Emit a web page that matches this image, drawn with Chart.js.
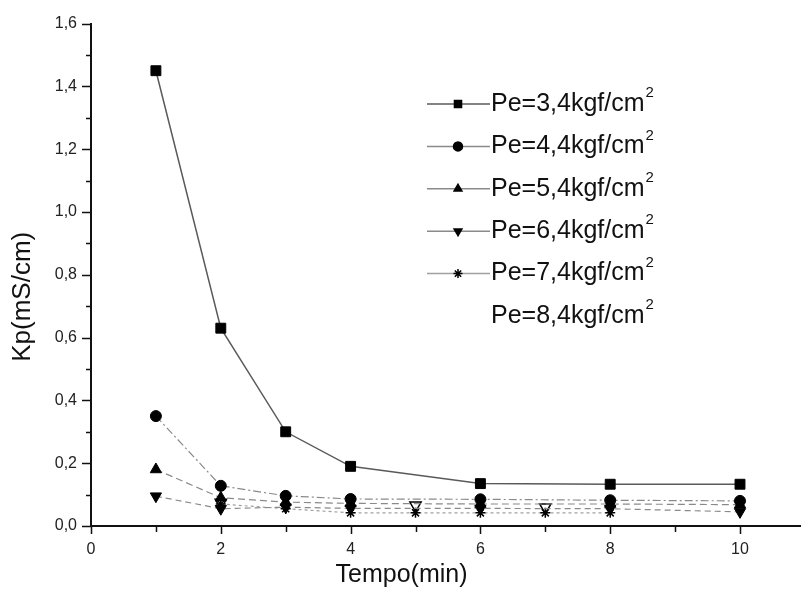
<!DOCTYPE html>
<html>
<head>
<meta charset="utf-8">
<script src="https://cdn.jsdelivr.net/npm/chart.js@4/dist/chart.umd.min.js"></script>
<style>
  html, body { margin: 0; padding: 0; background: #fff; overflow: hidden; }
</style>
</head>
<body>
<canvas id="kpChart" width="801" height="591"></canvas>
<script>
// Kp vs tempo, one series per pressure
const tempo = [1, 2, 3, 4, 6, 8, 10];
const kp34 = [1.45, 0.63, 0.30, 0.19, 0.135, 0.133, 0.133];
const kp44 = [0.35, 0.128, 0.096, 0.086, 0.085, 0.082, 0.08];
const kp54 = [0.18, 0.09, 0.076, 0.072, 0.07, 0.07, 0.068];
const kp64 = [0.095, 0.055, 0.06, 0.056, 0.056, 0.055, 0.045];
const tempo74 = [2, 3, 4, 5, 6, 7, 8];
const kp74 = [0.07, 0.055, 0.042, 0.042, 0.042, 0.042, 0.042];
const tempo84 = [2, 5, 7];
const kp84 = [0.075, 0.066, 0.06];

const legendLabels = ['Pe=3,4kgf/cm', 'Pe=4,4kgf/cm', 'Pe=5,4kgf/cm', 'Pe=6,4kgf/cm', 'Pe=7,4kgf/cm', 'Pe=8,4kgf/cm'];
const yTickLabels = ['0,0', '0,2', '0,4', '0,6', '0,8', '1,0', '1,2', '1,4', '1,6'];
const xTickLabels = ['0', '2', '4', '6', '8', '10'];
const xTitle = 'Tempo(min)';
const yTitle = 'Kp(mS/cm)';

const FONT = '"Liberation Sans", Arial, sans-serif';

function pts(xs, ys) {
  return xs.map((x, i) => ({ x: x, y: ys[i] }));
}

function serie(label, xs, ys, style) {
  return Object.assign({
    label: label,
    data: pts(xs, ys),
    borderColor: '#8a8a8a',
    borderWidth: 1.2,
    pointBackgroundColor: '#000',
    pointBorderColor: '#000',
    pointBorderWidth: 1,
    pointRadius: 5.5,
    fill: false,
    tension: 0,
    clip: false
  }, style);
}

const datasets = [
  serie(legendLabels[0], tempo, kp34, { pointStyle: 'rect', pointRadius: 7, borderColor: '#5a5a5a', borderWidth: 1.5 }),
  serie(legendLabels[1], tempo, kp44, { pointStyle: 'circle', borderDash: [8, 3, 2, 3] }),
  serie(legendLabels[2], tempo, kp54, { pointStyle: 'triangle', pointRadius: 6.5, borderDash: [7, 4] }),
  serie(legendLabels[3], tempo, kp64, { pointStyle: 'triangle', pointRotation: 180, pointRadius: 6.5, borderDash: [6, 4] }),
  serie(legendLabels[4], tempo74, kp74, { pointStyle: 'star', pointRadius: 5, pointBorderWidth: 1.5, borderColor: '#a0a0a0', borderDash: [3, 3] }),
  serie(legendLabels[5], tempo84, kp84, { pointStyle: 'triangle', pointRotation: 180, pointRadius: 6.5, pointBackgroundColor: '#fff', pointBorderWidth: 1.5, showLine: false, noLegendSymbol: true })
];

// short minor ticks / long major ticks, outside the axes
const axisTicks = {
  id: 'axisTicks',
  afterDraw(chart) {
    const ctx = chart.ctx;
    const x = chart.scales.x, y = chart.scales.y;
    const area = chart.chartArea;
    ctx.save();
    ctx.strokeStyle = '#111';
    ctx.lineWidth = 1.5;
    ctx.beginPath();
    for (let k = 0; k <= 16; k++) {
      const py = Math.round(y.getPixelForValue(k / 10)) + 0.5;
      const len = k % 2 === 0 ? 9 : 5;
      ctx.moveTo(area.left - len, py);
      ctx.lineTo(area.left, py);
    }
    for (let k = 0; k <= 10; k++) {
      const px = Math.round(x.getPixelForValue(k)) + 0.5;
      const len = k % 2 === 0 ? 8 : 6;
      ctx.moveTo(px, area.bottom);
      ctx.lineTo(px, area.bottom + len);
    }
    ctx.stroke();
    // the time axis runs on to the edge
    ctx.lineWidth = 2;
    ctx.beginPath();
    ctx.moveTo(area.right, area.bottom);
    ctx.lineTo(chart.width, area.bottom);
    ctx.stroke();
    ctx.restore();
  }
};

// axis titles, placed a little off the scale centres
const axisTitles = {
  id: 'axisTitles',
  afterDraw(chart) {
    const ctx = chart.ctx;
    const area = chart.chartArea;
    ctx.save();
    ctx.fillStyle = '#111';
    ctx.textAlign = 'center';
    ctx.textBaseline = 'middle';
    ctx.font = '25px ' + FONT;
    ctx.fillText(xTitle, (area.left + area.right) / 2 - 14, 575);
    ctx.translate(23, (area.top + area.bottom) / 2 + 22);
    ctx.rotate(-Math.PI / 2);
    ctx.font = '26px ' + FONT;
    ctx.fillText(yTitle, 0, 0);
    ctx.restore();
  }
};

// legend: line with marker, label with superscript 2
const lineLegend = {
  id: 'lineLegend',
  afterDraw(chart) {
    const ctx = chart.ctx;
    ctx.save();
    chart.data.datasets.forEach((ds, i) => {
      const y = 104 + i * 42.4;
      if (!ds.noLegendSymbol) {
        ctx.strokeStyle = ds.borderColor;
        ctx.lineWidth = 1.5;
        ctx.setLineDash([]);
        ctx.beginPath();
        ctx.moveTo(427, y);
        ctx.lineTo(490, y);
        ctx.stroke();
        ctx.fillStyle = '#000';
        ctx.strokeStyle = '#000';
        Chart.helpers.drawPoint(ctx, {
          pointStyle: ds.pointStyle,
          rotation: ds.pointRotation || 0,
          radius: ds.pointStyle === 'rect' ? 5 : 4.5,
          borderWidth: 1
        }, 458, y);
      }
      ctx.fillStyle = '#111';
      ctx.textBaseline = 'middle';
      ctx.textAlign = 'left';
      ctx.font = '25px ' + FONT;
      ctx.fillText(ds.label, 491, y);
      const w = ctx.measureText(ds.label).width;
      ctx.font = '15px ' + FONT;
      ctx.fillText('2', 491 + w + 1, y - 11);
    });
    ctx.restore();
  }
};

new Chart(document.getElementById('kpChart').getContext('2d'), {
  type: 'line',
  data: { datasets: datasets },
  options: {
    responsive: false,
    animation: false,
    devicePixelRatio: 1,
    layout: { autoPadding: false, padding: { top: 17, right: 61, left: 0, bottom: 0 } },
    plugins: {
      legend: { display: false },
      tooltip: { enabled: false }
    },
    scales: {
      x: {
        type: 'linear',
        min: 0,
        max: 10,
        afterBuildTicks: (scale) => {
          scale.ticks = xTickLabels.map((_, i) => ({ value: i * 2 }));
        },
        afterFit: (scale) => { scale.height = 65; },
        grid: { display: true, drawOnChartArea: false, drawTicks: false },
        border: { display: true, color: '#111', width: 2 },
        ticks: {
          padding: 14,
          maxRotation: 0,
          autoSkip: false,
          color: '#222',
          font: { family: FONT, size: 16 },
          callback: (v, i) => xTickLabels[i]
        }
      },
      y: {
        min: 0,
        max: 1.6,
        afterBuildTicks: (scale) => {
          scale.ticks = yTickLabels.map((_, i) => ({ value: i * 0.2 }));
        },
        afterFit: (scale) => { scale.width = 91; },
        grid: { display: true, drawOnChartArea: false, drawTicks: false },
        border: { display: true, color: '#111', width: 2 },
        ticks: {
          padding: 14,
          autoSkip: false,
          color: '#222',
          font: { family: FONT, size: 16 },
          callback: (v, i) => yTickLabels[i]
        }
      }
    }
  },
  plugins: [axisTicks, axisTitles, lineLegend]
});
</script>
</body>
</html>
